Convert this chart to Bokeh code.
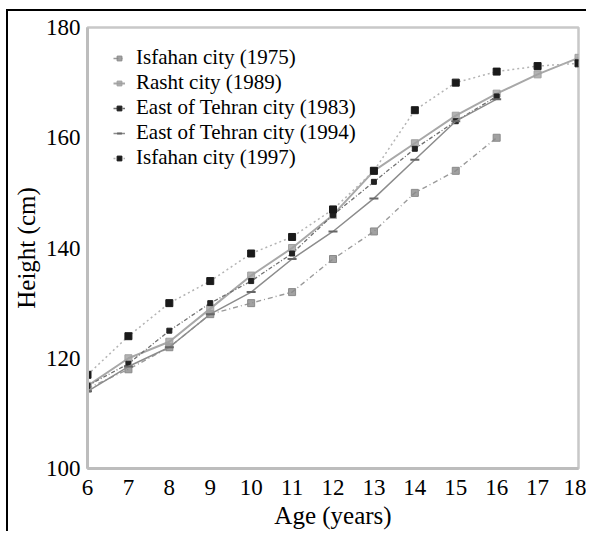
from bokeh.plotting import figure
from bokeh.models import Range1d, FixedTicker, Legend, LegendItem
from bokeh.embed import file_html
from bokeh.resources import INLINE

# ---- data ----
ages_isfahan_1975 = [6, 7, 8, 9, 10, 11, 12, 13, 14, 15, 16]
height_isfahan_1975 = [114.5, 118, 122, 128, 130, 132, 138, 143, 150, 154, 160]

ages_rasht_1989 = [6, 7, 8, 9, 10, 11, 12, 13, 14, 15, 16, 17, 18]
height_rasht_1989 = [115, 120, 123, 129, 135, 140, 146, 154, 159, 164, 168, 171.5, 174.5]

ages_tehran_1983 = [6, 7, 8, 9, 10, 11, 12, 13, 14, 15, 16]
height_tehran_1983 = [115, 119, 125, 130, 134, 139, 146, 152, 158, 163, 167.5]

ages_tehran_1994 = [6, 7, 8, 9, 10, 11, 12, 13, 14, 15, 16]
height_tehran_1994 = [114, 118.5, 122, 128, 132, 138, 143, 149, 156, 163, 167]

ages_isfahan_1997 = [6, 7, 8, 9, 10, 11, 12, 13, 14, 15, 16, 17, 18]
height_isfahan_1997 = [117, 124, 130, 134, 139, 142, 147, 154, 165, 170, 172, 173, 173.5]

x_ticks = [6, 7, 8, 9, 10, 11, 12, 13, 14, 15, 16, 17, 18]
y_ticks = [100, 120, 140, 160, 180]

SERIF = "Liberation Serif"

p = figure(width=580, height=522,
           x_range=Range1d(6, 18), y_range=Range1d(100, 180),
           output_backend="svg", toolbar_location=None,
           min_border_left=79, min_border_right=10,
           min_border_top=16, min_border_bottom=65)
p.styles = {"margin-left": "6px", "margin-top": "9px",
            "border-left": "2px solid black", "border-top": "2px solid black"}

p.xgrid.visible = False
p.ygrid.visible = False
p.background_fill_color = "white"
p.border_fill_color = "white"
p.outline_line_color = "#c8c8c8"
p.outline_line_width = 2.5

for ax in (p.xaxis[0], p.yaxis[0]):
    ax.axis_line_color = "#bdbdbd"
    ax.axis_line_width = 3
    ax.major_tick_line_color = None
    ax.minor_tick_line_color = None
    ax.major_label_text_font = SERIF
    ax.major_label_text_font_size = "23px"
    ax.major_label_text_color = "black"
    ax.axis_label_text_font = SERIF
    ax.axis_label_text_font_size = "25px"
    ax.axis_label_text_font_style = "normal"
    ax.axis_label_text_color = "black"

p.xaxis.ticker = FixedTicker(ticks=x_ticks)
p.yaxis.ticker = FixedTicker(ticks=y_ticks)
p.xaxis.axis_label = "Age (years)"
p.yaxis.axis_label = "Height (cm)"
p.xaxis.major_label_standoff = 5
p.xaxis.axis_label_standoff = 4
p.yaxis.major_label_standoff = 1
p.yaxis.axis_label_standoff = 3

items = []

# Isfahan city (1975)
l1 = p.line(ages_isfahan_1975, height_isfahan_1975, line_color="#9a9a9a",
            line_width=1.4, line_dash="5 3 1 3")
m1 = p.scatter(ages_isfahan_1975, height_isfahan_1975, marker="square", size=7,
               fill_color="#8a8a8a", line_color="#8a8a8a", fill_alpha=0.8)
items.append(LegendItem(label="Isfahan city (1975)", renderers=[l1, m1]))

# Rasht city (1989)
l2 = p.line(ages_rasht_1989, height_rasht_1989, line_color="#a8a8a8", line_width=2)
m2 = p.scatter(ages_rasht_1989, height_rasht_1989, marker="square", size=7,
               fill_color="#a0a0a0", line_color="#a0a0a0", fill_alpha=0.8)
items.append(LegendItem(label="Rasht city (1989)", renderers=[l2, m2]))

# East of Tehran city (1983)
l3 = p.line(ages_tehran_1983, height_tehran_1983, line_color="#707070",
            line_width=1.3, line_dash="4 2 1 2")
m3 = p.scatter(ages_tehran_1983, height_tehran_1983, marker="square", size=5,
               fill_color="#222222", line_color="#222222")
items.append(LegendItem(label="East of Tehran city (1983)", renderers=[l3, m3]))

# East of Tehran city (1994)
l4 = p.line(ages_tehran_1994, height_tehran_1994, line_color="#8c8c8c", line_width=1.5)
m4 = p.scatter(ages_tehran_1994, height_tehran_1994, marker="dash", size=9,
               line_color="#666666", line_width=2)
items.append(LegendItem(label="East of Tehran city (1994)", renderers=[l4, m4]))

# Isfahan city (1997)
l5 = p.line(ages_isfahan_1997, height_isfahan_1997, line_color="#b4b4b4",
            line_width=1.5, line_dash="2 3")
m5 = p.scatter(ages_isfahan_1997, height_isfahan_1997, marker="square", size=7,
               fill_color="#1a1a1a", line_color="#1a1a1a")
items.append(LegendItem(label="Isfahan city (1997)", renderers=[l5, m5]))

legend = Legend(items=items, location=(26, 298))
legend.border_line_color = None
legend.background_fill_alpha = 0
legend.padding = 0
legend.margin = 0
legend.spacing = 0
legend.glyph_width = 12
legend.glyph_height = 20
legend.label_height = 20
legend.label_standoff = 11
legend.label_text_font = SERIF
legend.label_text_font_size = "21px"
legend.label_text_color = "black"
p.add_layout(legend, "center")

open("out.html", "w").write(file_html(p, INLINE))
